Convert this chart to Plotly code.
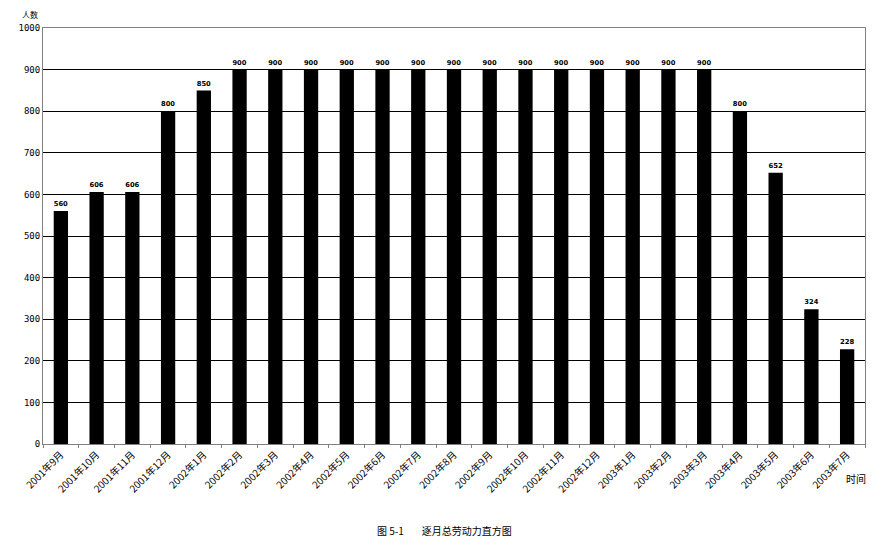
import plotly.graph_objects as go

months = ["2001年9月", "2001年10月", "2001年11月", "2001年12月",
          "2002年1月", "2002年2月", "2002年3月", "2002年4月", "2002年5月", "2002年6月",
          "2002年7月", "2002年8月", "2002年9月", "2002年10月", "2002年11月", "2002年12月",
          "2003年1月", "2003年2月", "2003年3月", "2003年4月", "2003年5月", "2003年6月", "2003年7月"]
workers = [560, 606, 606, 800, 850, 900, 900, 900, 900, 900, 900, 900, 900, 900,
           900, 900, 900, 900, 900, 800, 652, 324, 228]
y_ticks = [0, 100, 200, 300, 400, 500, 600, 700, 800, 900, 1000]

fig = go.Figure(go.Bar(
    x=months, y=workers,
    marker=dict(color="black", line=dict(width=0)),
    text=[str(v) for v in workers], textposition="outside",
    textfont=dict(family="DejaVu Sans", size=11, color="black", weight="bold"),
    cliponaxis=False,
))

fig.update_layout(
    width=877, height=536,
    margin=dict(l=35, r=20, t=20, b=100),
    plot_bgcolor="white", paper_bgcolor="white",
    bargap=0.6, showlegend=False,
    font=dict(family="Noto Sans CJK SC", color="black"),
    xaxis=dict(
        tickangle=-45, tickfont=dict(size=10, family="Noto Sans CJK SC"),
        showline=True, linecolor="#808080", linewidth=1, mirror=True,
        ticks="outside", ticklen=3, tickcolor="#808080", tickson="boundaries",
        showgrid=False, automargin=False,
    ),
    yaxis=dict(
        range=[0, 1000], tickvals=y_ticks,
        tickfont=dict(size=9, family="DejaVu Sans Mono"),
        showgrid=True, gridcolor="black", gridwidth=1,
        showline=True, linecolor="#808080", linewidth=1, mirror=True,
        ticks="", zeroline=False, automargin=False,
    ),
    annotations=[
        dict(text="人数", xref="paper", yref="paper", x=-0.028, y=1.032,
             showarrow=False, font=dict(size=8), xanchor="left", yanchor="middle"),
        dict(text="时间", xref="paper", yref="paper", x=1.004, y=-0.082,
             showarrow=False, font=dict(size=10), xanchor="right", yanchor="middle"),
        dict(text="图 5-1&nbsp;&nbsp;&nbsp;&nbsp;&nbsp;&nbsp;&nbsp;&nbsp;逐月总劳动力直方图", xref="paper", yref="paper",
             x=0.489, y=-0.207, showarrow=False, font=dict(size=10, family="Noto Sans CJK SC"),
             xanchor="center", yanchor="middle"),
    ],
)

fig.write_html("out.html")
